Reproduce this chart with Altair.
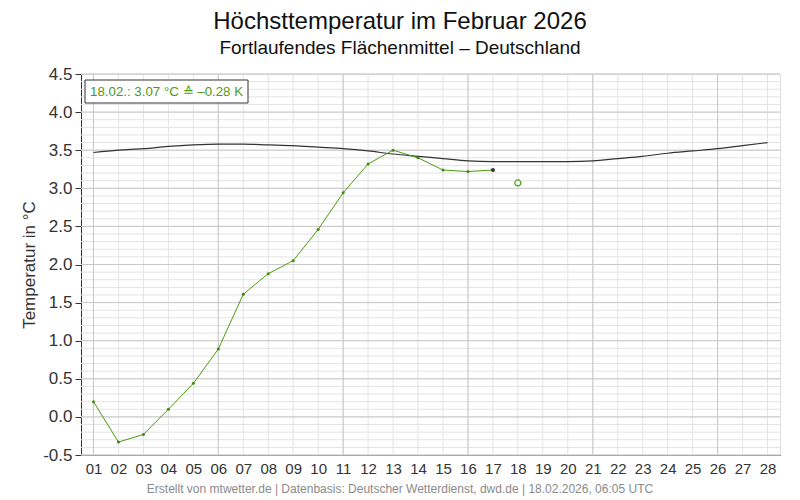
import altair as alt
import pandas as pd

# ---- data ----
days = list(range(1, 29))
tmax_days = list(range(1, 18))
tmax_values = [0.20, -0.33, -0.23, 0.10, 0.44, 0.89, 1.61, 1.88, 2.05, 2.46,
               2.94, 3.32, 3.50, 3.40, 3.24, 3.22, 3.24]
clim_values = [3.47, 3.50, 3.52, 3.55, 3.57, 3.58, 3.58, 3.57, 3.56, 3.54,
               3.52, 3.49, 3.45, 3.42, 3.39, 3.36, 3.35, 3.35, 3.35, 3.35,
               3.36, 3.39, 3.42, 3.46, 3.49, 3.52, 3.56, 3.60]
forecast_day = [18]
forecast_value = [3.07]
y_major = [-0.5, 0.0, 0.5, 1.0, 1.5, 2.0, 2.5, 3.0, 3.5, 4.0, 4.5]
y_minor = [round(-0.5 + 0.1 * i, 1) for i in range(51)]
x_major = [1, 6, 11, 16, 21, 26]

title_text = "Höchsttemperatur im Februar 2026"
subtitle_text = "Fortlaufendes Flächenmittel – Deutschland"
footer_text = "Erstellt von mtwetter.de | Datenbasis: Deutscher Wetterdienst, dwd.de | 18.02.2026, 06:05 UTC"
anno_text = "18.02.: 3.07 °C ≙ –0.28 K"
y_title = "Temperatur in °C"

GREEN = "#4f9a12"
DARK = "#333333"
FONT = "Liberation Sans"

df_t = pd.DataFrame({"day": tmax_days, "value": tmax_values})
df_last = df_t.tail(1)
df_c = pd.DataFrame({"day": days, "value": clim_values})
df_f = pd.DataFrame({"day": forecast_day, "value": forecast_value})
df_xmin = pd.DataFrame({"day": days})
df_xmaj = pd.DataFrame({"day": x_major})
df_ymin = pd.DataFrame({"v": y_minor})
df_ymaj = pd.DataFrame({"v": y_major})

xscale = alt.Scale(domain=[0.5, 28.5], nice=False, zero=False)
yscale = alt.Scale(domain=[-0.5, 4.5], nice=False, zero=False)

xaxis = alt.Axis(values=days, labelExpr="datum.value < 10 ? '0' + datum.value : '' + datum.value",
                 ticks=False, grid=False, domainColor=DARK, labelFontSize=15, labelColor=DARK,
                 labelPadding=6, title=None, labelFont=FONT)
yaxis = alt.Axis(values=y_major, labelExpr="replace(format(datum.value, '.1f'), '\u2212', '-')",
                 tickSize=6, tickColor=DARK, domainColor=DARK, grid=False,
                 labelFontSize=17, labelColor=DARK, labelPadding=3, labelFont=FONT,
                 title=y_title, titleFontSize=17, titleFontWeight="normal", titleColor=DARK,
                 titleFont=FONT, titlePadding=4)

X = lambda: alt.X("day:Q", scale=xscale, axis=xaxis)
Y = lambda: alt.Y("value:Q", scale=yscale, axis=yaxis)

xmin_rules = alt.Chart(df_xmin).mark_rule(color="#e3e3e3", strokeWidth=1).encode(x=alt.X("day:Q", scale=xscale, axis=xaxis))
ymin_rules = alt.Chart(df_ymin).mark_rule(color="#e3e3e3", strokeWidth=1).encode(y=alt.Y("v:Q", scale=yscale, axis=yaxis))
xmaj_rules = alt.Chart(df_xmaj).mark_rule(color="#c8c8c8", strokeWidth=1).encode(x=alt.X("day:Q", scale=xscale, axis=xaxis))
ymaj_rules = alt.Chart(df_ymaj).mark_rule(color="#c8c8c8", strokeWidth=1).encode(y=alt.Y("v:Q", scale=yscale, axis=yaxis))

clim_line = alt.Chart(df_c).mark_line(color=DARK, strokeWidth=1.2, interpolate="monotone").encode(x=X(), y=Y())
t_line = alt.Chart(df_t).mark_line(color=GREEN, strokeWidth=1).encode(x=X(), y=Y())
t_pts = alt.Chart(df_t).mark_point(filled=True, color="#3f8a0a", size=9, opacity=1).encode(x=X(), y=Y())
last_pt = alt.Chart(df_last).mark_point(filled=True, color="#3a3a3a", size=16, opacity=1).encode(x=X(), y=Y())
fc_pt = alt.Chart(df_f).mark_point(filled=False, color=GREEN, size=36, strokeWidth=1.2, opacity=1).encode(x=X(), y=Y())

anno_box = alt.Chart(pd.DataFrame({"t": [anno_text]})).mark_rect(
    fill="white", stroke=DARK, strokeWidth=1).encode(
    x=alt.value(4), x2=alt.value(167), y=alt.value(6), y2=alt.value(29))
anno = alt.Chart(pd.DataFrame({"t": [anno_text]})).mark_text(
    align="left", baseline="middle", fontSize=13.3, color=GREEN, font=FONT).encode(
    x=alt.value(9), y=alt.value(18), text="t:N")

title = alt.Chart(pd.DataFrame({"t": [title_text]})).mark_text(
    align="center", baseline="alphabetic", fontSize=24, color="#111111", font=FONT).encode(
    x=alt.value(319), y=alt.value(-45), text="t:N")
subtitle = alt.Chart(pd.DataFrame({"t": [subtitle_text]})).mark_text(
    align="center", baseline="alphabetic", fontSize=19, color="#111111", font=FONT).encode(
    x=alt.value(319), y=alt.value(-20.5), text="t:N")
footer = alt.Chart(pd.DataFrame({"t": [footer_text]})).mark_text(
    align="center", baseline="middle", fontSize=12, color="#8a8a8a", font=FONT).encode(
    x=alt.value(319), y=alt.value(415), text="t:N")

chart = alt.layer(
    xmin_rules, ymin_rules, xmaj_rules, ymaj_rules,
    clim_line, t_line, t_pts, last_pt, fc_pt,
    anno_box, anno, title, subtitle, footer
).properties(
    width=699, height=381,
    autosize=alt.AutoSizeParams(type="none"),
    padding={"left": 73, "top": 66, "right": 12, "bottom": 44},
).configure_view(stroke=DARK, strokeWidth=1).configure(background="white")

chart.save("out.html", embed_options={"renderer": "svg", "actions": False})
